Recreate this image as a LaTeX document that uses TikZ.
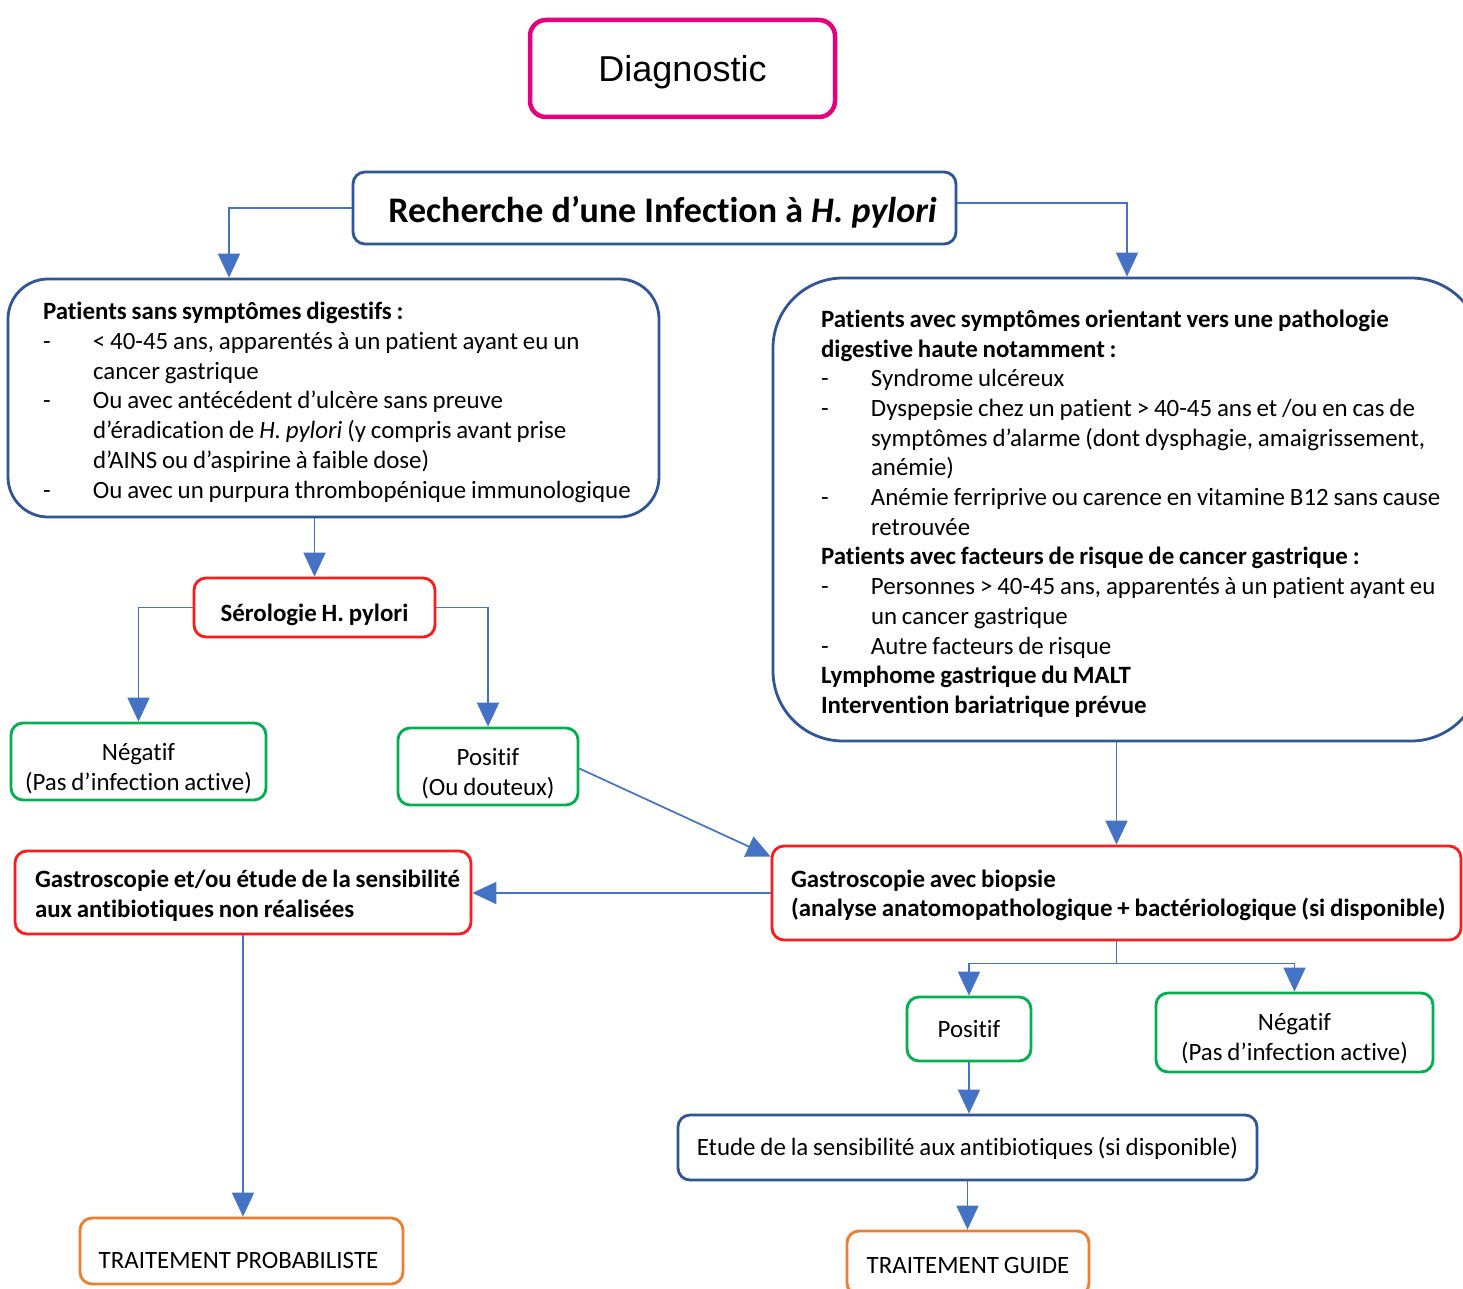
\documentclass[tikz,border=0pt]{standalone}
\usepackage{fontspec}
\setmainfont{Carlito}[Ligatures=NoCommon, WordSpace=0.86]
\newfontfamily\titlef{Carlito}[Ligatures=NoCommon]
\newfontfamily\arialf{Liberation Sans}
\usetikzlibrary{arrows.meta,calc}
\definecolor{bbd}{HTML}{2F5597}
\definecolor{rbd}{HTML}{FF1A1A}
\definecolor{gbd}{HTML}{00B050}
\definecolor{obd}{HTML}{ED7D31}
\definecolor{mbd}{HTML}{E6007E}
\definecolor{arr}{HTML}{4472C4}
\newcommand{\Li}[1]{\makebox[50pt][l]{-}#1}
\newcommand{\Lc}[1]{\hspace*{50pt}#1}
\newcommand{\TL}[3]{\raisebox{-#1}[\height][\depth]{\makebox[#2][l]{\begin{tabular}{@{}l@{}}#3\end{tabular}}}}
\newcommand{\TC}[2]{\raisebox{-#1}[\height][\depth]{\begin{tabular}{@{}c@{}}#2\end{tabular}}}
\begin{document}
\begin{tikzpicture}[x=1pt,y=-1pt,
  box/.style={draw, line width=2.8pt, rounded corners=12pt, fill=white, inner sep=0pt,
    font=\fontsize{24.9}{29.7}\selectfont},
  conn/.style={draw=arr, line width=1.7pt, -{Triangle[width=22pt,length=24pt]}, arr},
  bluebox/.style={box, draw=bbd},
  redbox/.style={box, draw=rbd},
  greenbox/.style={box, draw=gbd},
  orangebox/.style={box, draw=obd}
]
\useasboundingbox[fill=white] (0,0) rectangle (1463,1289);

\node[box, draw=mbd, line width=4.5pt, rounded corners=16pt, minimum width=305pt, minimum height=97pt,
  font=\arialf\fontsize{36}{40}\selectfont] (diag) at (682.5,68.5)
  {\raisebox{-4pt}[\height][\depth]{Diagnostic}};

\node[bluebox, minimum width=603pt, minimum height=72pt, font=\titlef\bfseries\fontsize{36}{40}\selectfont]
  (rech) at (654.5,208)
  {\raisebox{-4pt}[\height][\depth]{\hspace*{16pt}Recherche d’une Infection à \textit{H. pylori}}};

\node[bluebox, rounded corners=40pt, minimum width=651pt, minimum height=238pt]
  (lbox) at (333.5,398) {\TL{5pt}{581pt}{%
\textbf{Patients sans symptômes digestifs :}\\
\Li{< 40-45 ans, apparentés à un patient ayant eu un}\\
\Lc{cancer gastrique}\\
\Li{Ou avec antécédent d’ulcère sans preuve}\\
\Lc{d’éradication de \textit{H. pylori} (y compris avant prise}\\
\Lc{d’AINS ou d’aspirine à faible dose)}\\
\Li{Ou avec un purpura thrombopénique immunologique}}};

\node[bluebox, rounded corners=70pt, minimum width=708pt, minimum height=463pt]
  (rbox) at (1127,509.5) {\TL{5pt}{612pt}{%
\textbf{Patients avec symptômes orientant vers une pathologie}\\
\textbf{digestive haute notamment :}\\
\Li{Syndrome ulcéreux}\\
\Li{Dyspepsie chez un patient > 40-45 ans et /ou en cas de}\\
\Lc{symptômes d’alarme (dont dysphagie, amaigrissement,}\\
\Lc{anémie)}\\
\Li{Anémie ferriprive ou carence en vitamine B12 sans cause}\\
\Lc{retrouvée}\\
\textbf{Patients avec facteurs de risque de cancer gastrique :}\\
\Li{Personnes > 40-45 ans, apparentés à un patient ayant eu}\\
\Lc{un cancer gastrique}\\
\Li{Autre facteurs de risque}\\
\textbf{Lymphome gastrique du MALT}\\
\textbf{Intervention bariatrique prévue}}};

\node[redbox, minimum width=241pt, minimum height=59pt]
  (sero) at (314.5,607.5) {\TC{8pt}{\textbf{Sérologie H. pylori}}};

\node[greenbox, minimum width=255pt, minimum height=77pt] (neg1) at (138.5,761.5)
  {\TC{8pt}{Négatif\\(Pas d’infection active)}};
\node[greenbox, minimum width=180pt, minimum height=77pt] (pos1) at (488,766.5)
  {\TC{8pt}{Positif\\(Ou douteux)}};

\node[redbox, minimum width=456pt, minimum height=83pt] (ge) at (243,892.5)
  {\TL{4pt}{416pt}{\textbf{Gastroscopie et/ou étude de la sensibilité}\\\textbf{aux antibiotiques non réalisées}}};
\node[redbox, minimum width=689pt, minimum height=94pt] (gb) at (1116.5,893)
  {\TL{3pt}{651pt}{\textbf{Gastroscopie avec biopsie}\\\textbf{(analyse anatomopathologique + bactériologique (si disponible)}}};

\node[greenbox, minimum width=124pt, minimum height=64pt] (pos2) at (969,1029) {\TC{3pt}{Positif}};
\node[greenbox, minimum width=277pt, minimum height=79pt] (neg2) at (1294.5,1032.5)
  {\TC{7pt}{Négatif\\(Pas d’infection active)}};

\node[bluebox, minimum width=579pt, minimum height=65pt] (etude) at (967.5,1147.5)
  {\TC{2pt}{Etude de la sensibilité aux antibiotiques (si disponible)}};

\node[orangebox, minimum width=323pt, minimum height=66pt] (tp) at (241.5,1251)
  {\TC{12pt}{TRAITEMENT PROBABILISTE\hspace*{6pt}}};
\node[orangebox, minimum width=242pt, minimum height=64pt] (tg) at (968,1263)
  {\TC{5pt}{TRAITEMENT GUIDE}};

\draw[conn] (rech.west) -| ($(lbox.north)+(-104.5,0)$);
\draw[conn] ([yshift=5pt]rech.east) -| (rbox.north);
\draw[conn] (sero.north |- lbox.south) -- (sero.north);
\draw[conn] (sero.west) -| (neg1.north);
\draw[conn] (sero.east) -| (pos1.north);
\draw[conn] ([yshift=-2pt]pos1.east) -- ([yshift=-12pt]gb.north west);
\draw[conn] (gb.north |- rbox.south) -- (gb.north);
\draw[conn] (gb.west) -- (gb.west -| ge.east);
\draw[conn] (ge.south) -- (ge.south |- tp.north);
\coordinate (split) at ($(gb.south)+(0,22)$);
\draw[conn] (gb.south) -- (split) -| (pos2.north);
\draw[conn] (split) -| (neg2.north);
\draw[conn] (pos2.south) -- (pos2.south |- etude.north);
\draw[conn] (etude.south) -- (etude.south |- tg.north);
\end{tikzpicture}
\end{document}
